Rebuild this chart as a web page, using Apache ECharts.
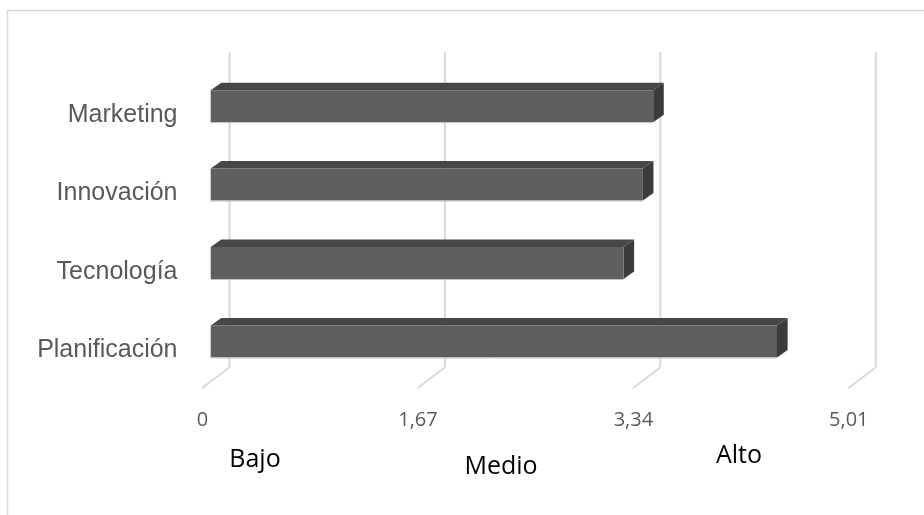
<!DOCTYPE html>
<html>
<head>
<meta charset="utf-8">
<script src="https://cdn.jsdelivr.net/npm/echarts@6/dist/echarts.min.js"></script>
<style>
html,body{margin:0;padding:0;background:#fff;}
#chart{width:924px;height:515px;}
</style>
</head>
<body>
<div id="chart"></div>
<script>
// Data (bottom to top order on the category axis)
const categories = ['Planificación', 'Tecnología', 'Innovación', 'Marketing'];
const values = [4.39, 3.20, 3.35, 3.43];
const tickValues = [0, 1.67, 3.34, 5.01];
const tickLabels = ['0', '1,67', '3,34', '5,01'];
const levelLabels = ['Bajo', 'Medio', 'Alto'];

const chart = echarts.init(document.getElementById('chart'), null, {renderer: 'canvas'});

const FRONT = '#5f5f5f', TOP = '#474747', SIDE = '#3b3b3b';
const DX = 10.6, DY = -7.5, BAR_H = 32, BAR_OFF = 8.2;

function renderBar(params, api) {
  const val = api.value(0);
  const cat = api.value(1);
  const p0 = api.coord([0, cat]);
  const p1 = api.coord([val, cat]);
  const x0 = p0[0] + BAR_OFF, x1 = p1[0] + BAR_OFF;
  const yt = p0[1] - BAR_H / 2, yb = p0[1] + BAR_H / 2;
  return {
    type: 'group',
    children: [
      {type: 'polygon', shape: {points: [[x0, yt], [x0 + DX, yt + DY], [x1 + DX, yt + DY], [x1, yt]]}, style: {fill: TOP}},
      {type: 'polygon', shape: {points: [[x1, yt], [x1 + DX, yt + DY], [x1 + DX, yb + DY], [x1, yb]]}, style: {fill: SIDE}},
      {type: 'rect', shape: {x: x0, y: yt, width: x1 - x0, height: yb - yt}, style: {fill: FRONT}},
      {type: 'line', shape: {x1: x0, y1: yb + 0.5, x2: x1, y2: yb + 0.5}, style: {stroke: '#c4c4c4', lineWidth: 1}}
    ]
  };
}

function renderGrid(params, api) {
  const v = api.value(0);
  const cs = params.coordSys;
  const x = api.coord([v, 0])[0];
  const yTop = cs.y - 15;
  const yBack = cs.y + cs.height - 13.3;
  const yFront = cs.y + cs.height + 7.7;
  return {
    type: 'group',
    children: [
      {type: 'line', shape: {x1: x + 27, y1: yTop, x2: x + 27, y2: yBack}, style: {stroke: '#d9d9d9', lineWidth: 2}},
      {type: 'line', shape: {x1: x + 27, y1: yBack, x2: x - 0.5, y2: yFront}, style: {stroke: '#d9d9d9', lineWidth: 2}}
    ]
  };
}

const levelPos = [[255, 460], [501, 467], [739, 456]];

chart.setOption({
  animation: false,
  backgroundColor: '#fff',
  grid: {left: 202.5, right: 75.2, top: 67, bottom: 134.4, containLabel: false},
  xAxis: {
    type: 'value', min: 0, max: 5.01, interval: 1.67,
    axisLine: {show: false}, axisTick: {show: false}, splitLine: {show: false},
    axisLabel: {
      show: true, showMaxLabel: true, showMinLabel: true,
      margin: 30, fontFamily: 'Open Sans', fontSize: 20, color: '#595959',
      formatter: function (v) {
        let best = 0;
        tickValues.forEach((t, i) => { if (Math.abs(t - v) < Math.abs(tickValues[best] - v)) best = i; });
        return tickLabels[best];
      }
    }
  },
  yAxis: {
    type: 'category', data: categories,
    axisLine: {show: false}, axisTick: {show: false}, splitLine: {show: false},
    axisLabel: {margin: 25, fontFamily: 'Liberation Sans', fontSize: 25, color: '#595959', verticalAlign: 'top', lineHeight: 18}
  },
  graphic: [
    {type: 'rect', left: 5, top: 8, shape: {x: 0, y: 0, width: 940, height: 530}, style: {fill: 'none', stroke: '#d9d9d9', lineWidth: 1.5}, silent: true}
  ].concat(levelLabels.map((t, i) => ({
    type: 'text', x: levelPos[i][0], y: levelPos[i][1],
    style: {text: t, fill: '#000', font: '25px "Open Sans"', align: 'center', verticalAlign: 'middle'}
  }))),
  series: [
    {type: 'custom', renderItem: renderGrid, data: tickValues.map(v => [v]), encode: {x: 0}, silent: true, z: 1},
    {type: 'custom', renderItem: renderBar, data: values.map((v, i) => [v, i]), encode: {x: 0, y: 1}, z: 2}
  ]
});
</script>
</body>
</html>
